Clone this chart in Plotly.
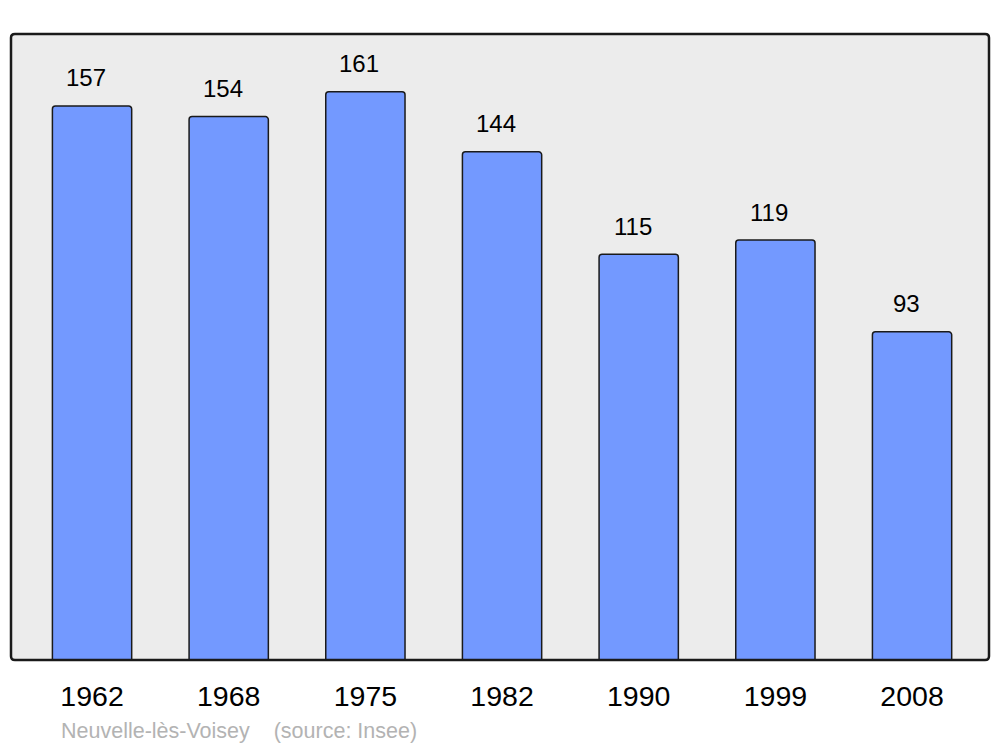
import plotly.graph_objects as go

years = ["1962", "1968", "1975", "1982", "1990", "1999", "2008"]
population = [157, 154, 161, 144, 115, 119, 93]
footer_text = "Neuvelle-lès-Voisey    (source: Insee)"

xpos = list(range(len(years)))

# page body has an 8px margin; compensate so the plot lands where the reference has it
OFF = 8
W, H = 1000 - OFF, 747 - OFF
L, R, T, B = 11 - OFF, 11, 34 - OFF, 87
PW, PH = W - L - R, H - T - B

fig = go.Figure()
fig.add_trace(go.Bar(
    x=xpos, y=population, width=0.58,
    marker=dict(color="#7399ff", line=dict(color="#1a1a1a", width=1.5)),
    hoverinfo="skip",
))

for xi, v in zip(xpos, population):
    fig.add_annotation(x=xi, y=v, xref="x", yref="y", text=str(v),
                       showarrow=False, yanchor="middle", yshift=28, xshift=-6,
                       font=dict(family="Liberation Sans, Arial, sans-serif", size=24, color="black"))

fig.add_annotation(x=(59 - 11) / PW, y=-(731 - 660) / PH, xref="paper", yref="paper",
                   text=footer_text, showarrow=False, xanchor="left", yanchor="middle",
                   font=dict(family="Liberation Sans, Arial, sans-serif", size=21.5, color="#b3b3b3"))

# rounded frame
fig.add_shape(type="path", xref="paper", yref="paper",
              path="M 0.004,0 L 0.996,0 Q 1,0 1,0.006 L 1,0.994 Q 1,1 0.996,1 L 0.004,1 Q 0,1 0,0.994 L 0,0.006 Q 0,0 0.004,0 Z",
              line=dict(color="#1a1a1a", width=2.5), layer="above")

fig.update_layout(
    width=W, height=H,
    margin=dict(l=L, r=R, t=T, b=B),
    paper_bgcolor="white", plot_bgcolor="#ececec",
    barcornerradius=3,
    showlegend=False,
    xaxis=dict(range=[-0.593, 6.563], tickvals=xpos, ticktext=years, showgrid=False,
               zeroline=False, ticks="", ticklabelstandoff=16,
               tickfont=dict(family="Liberation Sans, Arial, sans-serif", size=28.5, color="black")),
    yaxis=dict(range=[0, 177.4], showgrid=False, zeroline=False, showticklabels=False, ticks=""),
)

fig.write_html("out.html")
